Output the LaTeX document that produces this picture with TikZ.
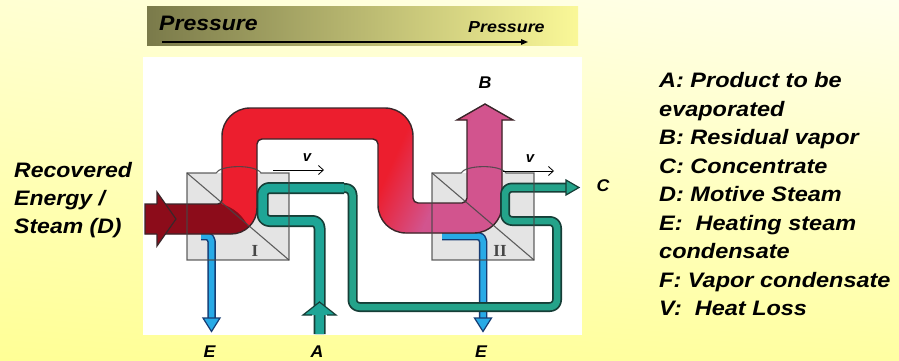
\documentclass[tikz,border=0pt]{standalone}
\usepackage{fontspec}
\setmainfont{Liberation Sans}
\newfontfamily\romanfont{Liberation Serif}
\usepackage{xcolor}
\usetikzlibrary{arrows.meta,shadings}
\definecolor{bgpaleL}{RGB}{255,255,210}
\definecolor{bgpaleR}{RGB}{255,255,236}
\definecolor{bgyellowL}{RGB}{255,255,150}
\definecolor{bgyellowR}{RGB}{255,255,162}
\definecolor{bannerL}{RGB}{122,122,74}
\definecolor{bannerM}{RGB}{205,203,132}
\definecolor{bannerR}{RGB}{250,248,152}
\definecolor{vapred}{RGB}{236,30,46}
\definecolor{vappink}{RGB}{210,84,142}
\definecolor{steamred}{RGB}{140,12,26}
\definecolor{vapline}{RGB}{58,38,42}
\definecolor{prodteal}{RGB}{30,165,150}
\definecolor{concgreen}{RGB}{36,163,138}
\definecolor{tealline}{RGB}{22,62,55}
\definecolor{condblue}{RGB}{40,170,230}
\definecolor{blueline}{RGB}{22,60,115}
\definecolor{stagegray}{RGB}{228,228,228}
\definecolor{stageline}{RGB}{70,70,70}
\newcommand{\vapourpipe}{(145,204) [rounded corners=4bp] -- (222,204)
    [rounded corners=28bp] -- (222,108) -- (413,108)
    [rounded corners=5bp] -- (413,203) -- (467,203)
    [sharp corners] -- (467,120) -- (457,120) -- (485,104) -- (513,120) -- (502,120)
    [rounded corners=28bp] -- (502,233) -- (378,233)
    [rounded corners=5bp] -- (378,139) -- (257,139)
    [rounded corners=26bp] -- (257,234) [sharp corners] -- (145,234) -- cycle}

\begin{document}
\begin{tikzpicture}[x=1bp,y=-1bp,
    bigtxt/.style={font=\bfseries\itshape\fontsize{21}{25}\selectfont,inner sep=0pt,xscale=1.1},
    midtxt/.style={font=\bfseries\itshape\fontsize{16}{19}\selectfont,inner sep=0pt,xscale=1.12},
    smalltxt/.style={font=\bfseries\itshape\fontsize{17}{20}\selectfont,inner sep=0pt,xscale=1.05},
    vtxt/.style={font=\bfseries\itshape\fontsize{15}{18}\selectfont,inner sep=0pt},
    romtxt/.style={font=\romanfont\bfseries\fontsize{17}{20}\selectfont,inner sep=0pt,text=stageline},
    tube/.style={draw=#1,rounded corners=7bp,line join=round},
    stageedge/.style={draw=stageline,line width=1.1bp,draw opacity=0.85},
    heat/.style={-{Straight Barb[length=5bp,width=9bp]},line width=0.8bp},
    head/.style={line width=1.2bp,line join=miter}]
    \useasboundingbox (0,0) rectangle (899,360);
    % background
    \shade[upper left=bgpaleL,upper right=bgpaleR,lower left=bgyellowL,
        lower right=bgyellowR] (0,0) rectangle (899,360);
    % pressure bar
    \shade[left color=bannerL,middle color=bannerM,right color=bannerR]
        (147,6) rectangle (578,45);
    \node[bigtxt,anchor=base west] (presslow) at (159,30.5) {Pressure};
    \node[midtxt,anchor=base west] (presshigh) at (468,32.5) {Pressure};
    \coordinate (pstart) at (162,42);
    \coordinate (pend) at (528,42);
    \draw[-{Triangle[length=7bp,width=5.5bp]},line width=1.3bp] (pstart) -- (pend);
    % white plate
    \fill[white] (143,57) rectangle (582,335);
    % stage bodies
    \foreach \bx in {187,432}
        \fill[stagegray] (\bx,173) rectangle ++(102,87);
    % condensate E
    \foreach \sx/\ex [count=\k] in {201/211.5,442/483} {
        \draw[tube=blueline,line width=8.5bp,rounded corners=5bp,
            postaction={draw=condblue,line width=5.5bp}]
            (\sx,236) -- (\ex,236) -- (\ex,319);
        \filldraw[head,fill=condblue,draw=blueline]
            (\ex-8.5,318) -- (\ex+8.5,318) -- (\ex,331.5) -- cycle;
        \node[smalltxt] (labE\k) at (\ex-2,352) {E};
    }
    % vapour pipe
    \begin{scope}
        \clip \vapourpipe;
        \fill[vapred] (140,100) rectangle (520,240);
        \begin{scope}[transform canvas={shift={(407,190)},rotate=-24}]
            \shade[left color=vapred,right color=vappink] (-25,-300) rectangle (30,300);
            \fill[vappink] (29.5,-300) rectangle (300,300);
        \end{scope}
        \fill[steamred] (140,190) -- (221,190) -- (221,204)
            .. controls (233,207) and (243,215) .. (249,228) -- (249,240) -- (140,240) -- cycle;
    \end{scope}
    \draw[vapline,line width=1.4bp] \vapourpipe;
    % steam D arrow head
    \filldraw[head,fill=steamred,draw=vapline]
        (157,204) -- (157,192) -- (176,219) -- (157,246) -- (157,234);
    % product A and concentrate C
    \draw[tube=tealline,line width=10bp,postaction={draw=concgreen,line width=6.5bp}]
        (336,188) -- (352.5,188) -- (352.5,307) -- (557,307) -- (557,221)
        -- (505,221) -- (505,187.5) -- (567,187.5);
    \draw[tube=tealline,line width=12bp,postaction={draw=prodteal,line width=8.5bp}]
        (319.5,334) -- (319.5,221) -- (262.5,221) -- (262.5,188) -- (344,188);
    \filldraw[head,fill=concgreen,draw=tealline] (566,180) -- (579,187.5) -- (566,195) -- cycle;
    \filldraw[head,fill=prodteal,draw=tealline]
        (312,315) -- (303,315) -- (319.5,302) -- (336,315) -- (327,315);
    % stage outlines
    \foreach \bx/\num [count=\k] in {187/I,432/II} {
        \draw[stageedge] (\bx,173) -- (\bx+29,173)
            .. controls (\bx+33,165) and (\bx+68,164) .. (\bx+74,173)
            -- (\bx+102,173) -- (\bx+102,260) -- (\bx,260) -- cycle;
        \draw[stageedge] (\bx,173) -- (\bx+102,260);
        \node[romtxt] (stage\k) at (\bx+68,251) {\num};
    }
    % heat losses V
    \foreach \vx/\vy/\lx [count=\k] in {273/170/34,503/171/27} {
        \coordinate (vfrom\k) at (\vx,\vy);
        \coordinate (vto\k) at (\vx+51,\vy);
        \draw[heat] (vfrom\k) -- (vto\k);
        \node[vtxt] (labV\k) at (\vx+\lx,\vy-12) {v};
    }
    % stream labels
    \node[smalltxt] (labA) at (317,352) {A};
    \node[smalltxt] (labB) at (485,83) {B};
    \node[smalltxt] (labC) at (603,186) {C};
    % recovered energy
    \foreach \txt [count=\i] in {Recovered,{Energy /},{Steam (D)}}
        \node[bigtxt,anchor=base west] (steam\i) at (14,177.5+27.75*\i-27.75) {\txt};
    % key
    \foreach \txt [count=\i] in {A: Product to be,evaporated,B: Residual vapor,
        C: Concentrate,D: Motive Steam,E:~ Heating steam,condensate,
        F: Vapor condensate,V:~ Heat Loss}
        \node[bigtxt,xscale=1.02,anchor=base west] (key\i) at (659,87.5+28.5*\i-28.5) {\txt};
\end{tikzpicture}
\end{document}
